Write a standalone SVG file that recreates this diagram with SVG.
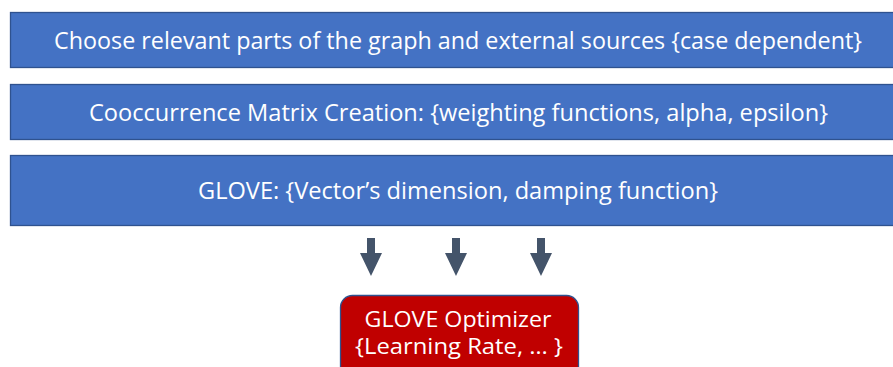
<svg xmlns="http://www.w3.org/2000/svg" width="893" height="367" viewBox="0 0 893 367">
<style>
.band{fill:#4472C4;stroke:#2F528F;stroke-width:1.3}
.opt{fill:#C00000;stroke:#2F528F;stroke-width:1.3}
.t{font-family:"Open Sans","Liberation Sans",sans-serif;font-size:23px;fill:#FFFFFF;text-anchor:middle}
.s{font-size:21px}
.arr{fill:#44546A}
</style>
<rect width="893" height="367" fill="#FFFFFF"/>
<g id="node-choose">
<rect class="band" x="10.5" y="12.5" width="890" height="55"/>
<text class="t" x="458" y="49" textLength="808" lengthAdjust="spacingAndGlyphs">Choose relevant parts of the graph and external sources {case dependent}</text>
</g>
<g id="node-cooccurrence">
<rect class="band" x="10.5" y="84.5" width="890" height="55"/>
<text class="t" x="458.5" y="121" textLength="739" lengthAdjust="spacingAndGlyphs">Cooccurrence Matrix Creation: {weighting functions, alpha, epsilon}</text>
</g>
<g id="node-glove">
<rect class="band" x="10.5" y="155.5" width="890" height="70"/>
<text class="t" x="458" y="199" textLength="520" lengthAdjust="spacingAndGlyphs">GLOVE: {Vector’s dimension, damping function}</text>
</g>
<g id="connectors">
<path class="arr" d="M367,238 H375 V253 H382 L371,276 L360,253 H367 Z"/>
<path class="arr" d="M452,238 H460 V253 H467 L456,276 L445,253 H452 Z"/>
<path class="arr" d="M537,238 H545 V253 H552 L541,276 L530,253 H537 Z"/>
</g>
<g id="node-optimizer">
<rect class="opt" x="340.5" y="295.5" width="238" height="90" rx="12"/>
<text class="t s" x="458" y="327" textLength="187" lengthAdjust="spacingAndGlyphs">GLOVE Optimizer</text>
<text class="t s" x="459" y="354" textLength="208" lengthAdjust="spacingAndGlyphs">{Learning Rate, … }</text>
</g>
</svg>
